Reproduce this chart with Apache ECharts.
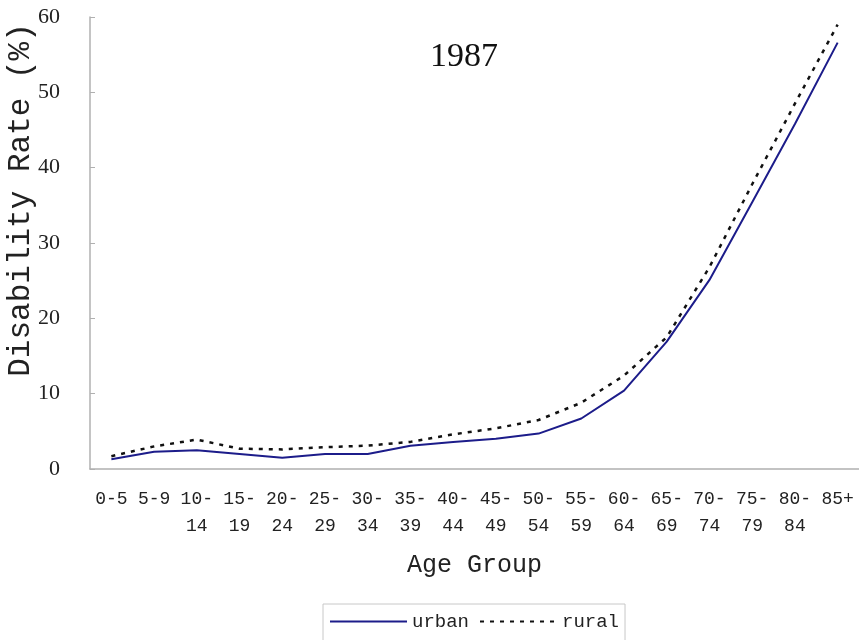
<!DOCTYPE html>
<html>
<head>
<meta charset="utf-8">
<script src="https://cdn.jsdelivr.net/npm/echarts@6/dist/echarts.min.js"></script>
<style>
  html, body { margin: 0; padding: 0; background: #fff; }
  #chart { width: 859px; height: 640px; }
</style>
</head>
<body>
<div id="chart"></div>
<script>
// 年龄组
const ageGroups = ['0-5', '5-9', '10-\n14', '15-\n19', '20-\n24', '25-\n29', '30-\n34', '35-\n39', '40-\n44',
  '45-\n49', '50-\n54', '55-\n59', '60-\n64', '65-\n69', '70-\n74', '75-\n79', '80-\n84', '85+'];
// 残疾率(%)
const urban = [1.3, 2.3, 2.5, 2.0, 1.5, 2.0, 2.0, 3.1, 3.6, 4.0, 4.7, 6.7, 10.4, 16.9, 25.1, 35.4, 45.8, 56.6];
const rural = [1.7, 3.0, 3.9, 2.7, 2.6, 2.9, 3.1, 3.6, 4.6, 5.4, 6.5, 8.8, 12.4, 17.5, 26.8, 37.8, 48.5, 59.0];
const yTicks = [0, 10, 20, 30, 40, 50, 60];

const monoFont = '"Liberation Mono", monospace';

const chart = echarts.init(document.getElementById('chart'));
const option = {
  animation: false,
  title: {
    text: '1987',
    left: 425,
    top: 35,
    textStyle: { fontFamily: '"Liberation Serif", serif', fontSize: 34, fontWeight: 'normal', color: '#111' }
  },
  legend: {
    left: 323,
    top: 604,
    padding: [8, 6, 10, 6],
    itemWidth: 77,
    itemHeight: 14,
    itemGap: 10,
    borderColor: '#c8c8c8',
    borderWidth: 1,
    itemStyle: { opacity: 0 },
    textStyle: { fontFamily: monoFont, fontSize: 19, color: '#222' },
    data: ['urban', 'rural']
  },
  graphic: [{
    type: 'text',
    x: 21,
    y: 200,
    rotation: Math.PI / 2,
    style: {
      text: 'Disability Rate (%)',
      fontFamily: monoFont,
      fontSize: 31,
      fill: '#222',
      align: 'center',
      verticalAlign: 'middle'
    }
  }],
  grid: { left: 90, right: -1, top: 17, bottom: 171 },
  xAxis: {
    type: 'category',
    data: ageGroups,
    boundaryGap: true,
    name: 'Age Group',
    nameLocation: 'middle',
    nameGap: 84,
    nameTextStyle: { fontFamily: monoFont, fontSize: 25, color: '#222' },
    axisLine: { lineStyle: { color: '#b0b0b0', width: 1.5 } },
    axisTick: { inside: true, length: 8, lineStyle: { color: '#b0b0b0' } },
    axisLabel: { interval: 0, margin: 17, lineHeight: 27, fontFamily: monoFont, fontSize: 18, color: '#222' }
  },
  yAxis: {
    type: 'value',
    min: yTicks[0],
    max: yTicks[yTicks.length - 1],
    interval: 10,
    splitLine: { show: false },
    axisLine: { show: true, lineStyle: { color: '#b0b0b0', width: 1.5 } },
    axisTick: { show: true, inside: true, length: 5, lineStyle: { color: '#b0b0b0' } },
    axisLabel: { margin: 30, fontFamily: '"Liberation Serif", serif', fontSize: 22, color: '#222' }
  },
  series: [
    {
      name: 'urban',
      type: 'line',
      data: urban,
      symbol: 'none',
      color: '#1c1c8a',
      lineStyle: { color: '#1c1c8a', width: 2 }
    },
    {
      name: 'rural',
      type: 'line',
      data: rural,
      symbol: 'none',
      color: '#111',
      lineStyle: { color: '#111', width: 2.5, type: [4, 6] }
    }
  ]
};
chart.setOption(option);
</script>
</body>
</html>
